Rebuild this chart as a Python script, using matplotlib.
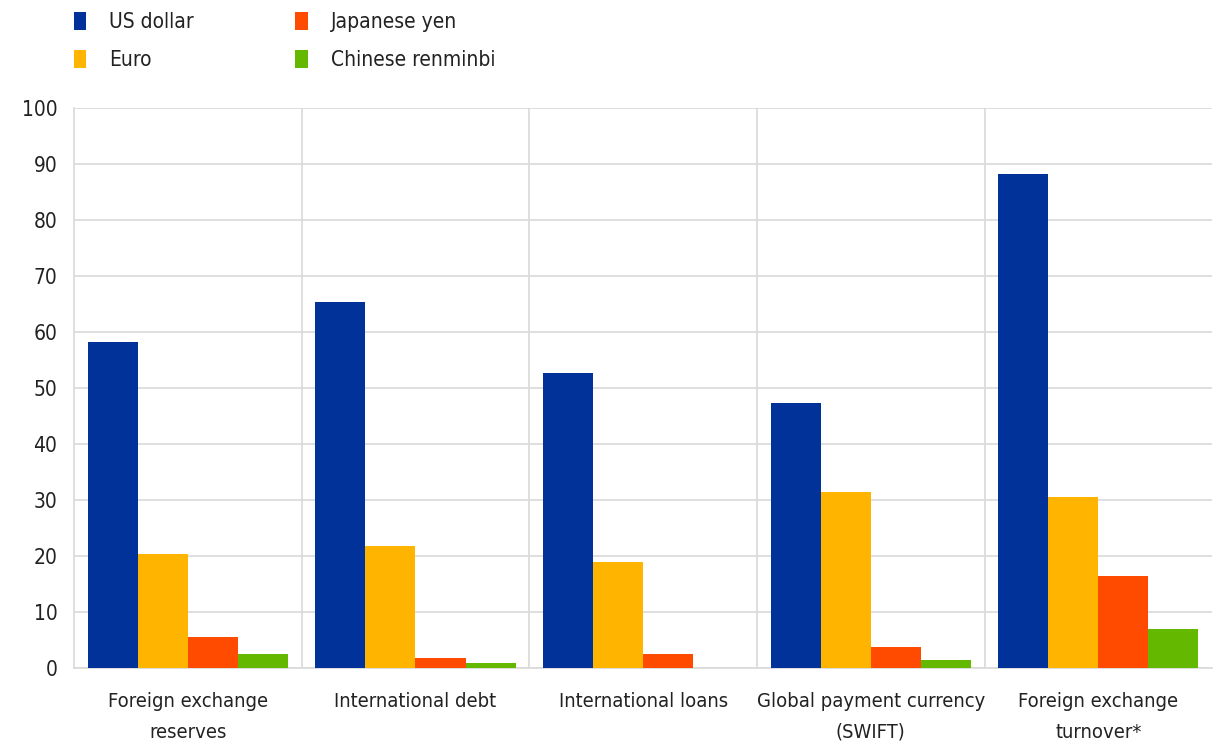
import numpy as np
import matplotlib
matplotlib.use('Agg')
import matplotlib.pyplot as plt
from matplotlib.patches import Patch

plt.rcParams['font.family'] = ['DejaVu Sans']
plt.rcParams['font.stretch'] = 'condensed'

# data (percentages)
categories = ['Foreign exchange\nreserves', 'International debt', 'International loans',
              'Global payment currency\n(SWIFT)', 'Foreign exchange\nturnover*']
series_names = ['US dollar', 'Euro', 'Japanese yen', 'Chinese renminbi']
us_dollar = [58.2, 65.4, 52.7, 47.3, 88.2]
euro = [20.4, 21.8, 18.9, 31.4, 30.5]
yen = [5.5, 1.8, 2.5, 3.8, 16.4]
renminbi = [2.5, 0.9, 0.0, 1.4, 7.0]
colors = ['#003299', '#FFB400', '#FF4B00', '#65B800']

def main():
    fig = plt.figure(figsize=(12.17, 7.45), dpi=100)
    ax = fig.add_axes([0.0608, 0.1034, 0.9352, 0.7516])

    x = np.arange(len(categories))
    width = 0.22
    all_series = [us_dollar, euro, yen, renminbi]
    for i, vals in enumerate(all_series):
        offs = (i - 1.5) * width
        ax.bar(x + offs, vals, width, color=colors[i], zorder=3, linewidth=0)

    ax.set_xlim(-0.5, len(categories) - 0.5)
    ax.set_ylim(0, 100)
    ax.set_yticks(np.arange(0, 101, 10))
    ax.set_xticks(x)
    ax.set_xticklabels(categories, linespacing=1.8)
    ax.set_xticks(np.arange(0.5, len(categories) - 0.5, 1), minor=True)
    ax.grid(axis='y', which='major', color='#d9d9d9', linewidth=1.2, zorder=0)
    ax.grid(axis='x', which='minor', color='#d9d9d9', linewidth=1.2, zorder=0)
    ax.tick_params(axis='both', which='both', length=0, colors='#222222')
    ax.tick_params(axis='x', pad=17, labelsize=14.5)
    ax.tick_params(axis='y', pad=12, labelsize=15)
    for s in ['top', 'right']:
        ax.spines[s].set_visible(False)
    for s in ['left', 'bottom']:
        ax.spines[s].set_color('#d9d9d9')
        ax.spines[s].set_linewidth(1.2)

    handles = [Patch(facecolor=c, edgecolor='none') for c in colors]
    fig.legend(handles, series_names, loc='upper left', bbox_to_anchor=(0.045, 1.009),
               ncol=2, frameon=False, fontsize=15, handlelength=0.62, handleheight=0.98,
               handletextpad=1.1, labelspacing=0.85, columnspacing=4.85,
               labelcolor='#222222')

    fig.savefig('out.png', dpi=100)
    plt.close(fig)

if __name__ == '__main__':
    main()
